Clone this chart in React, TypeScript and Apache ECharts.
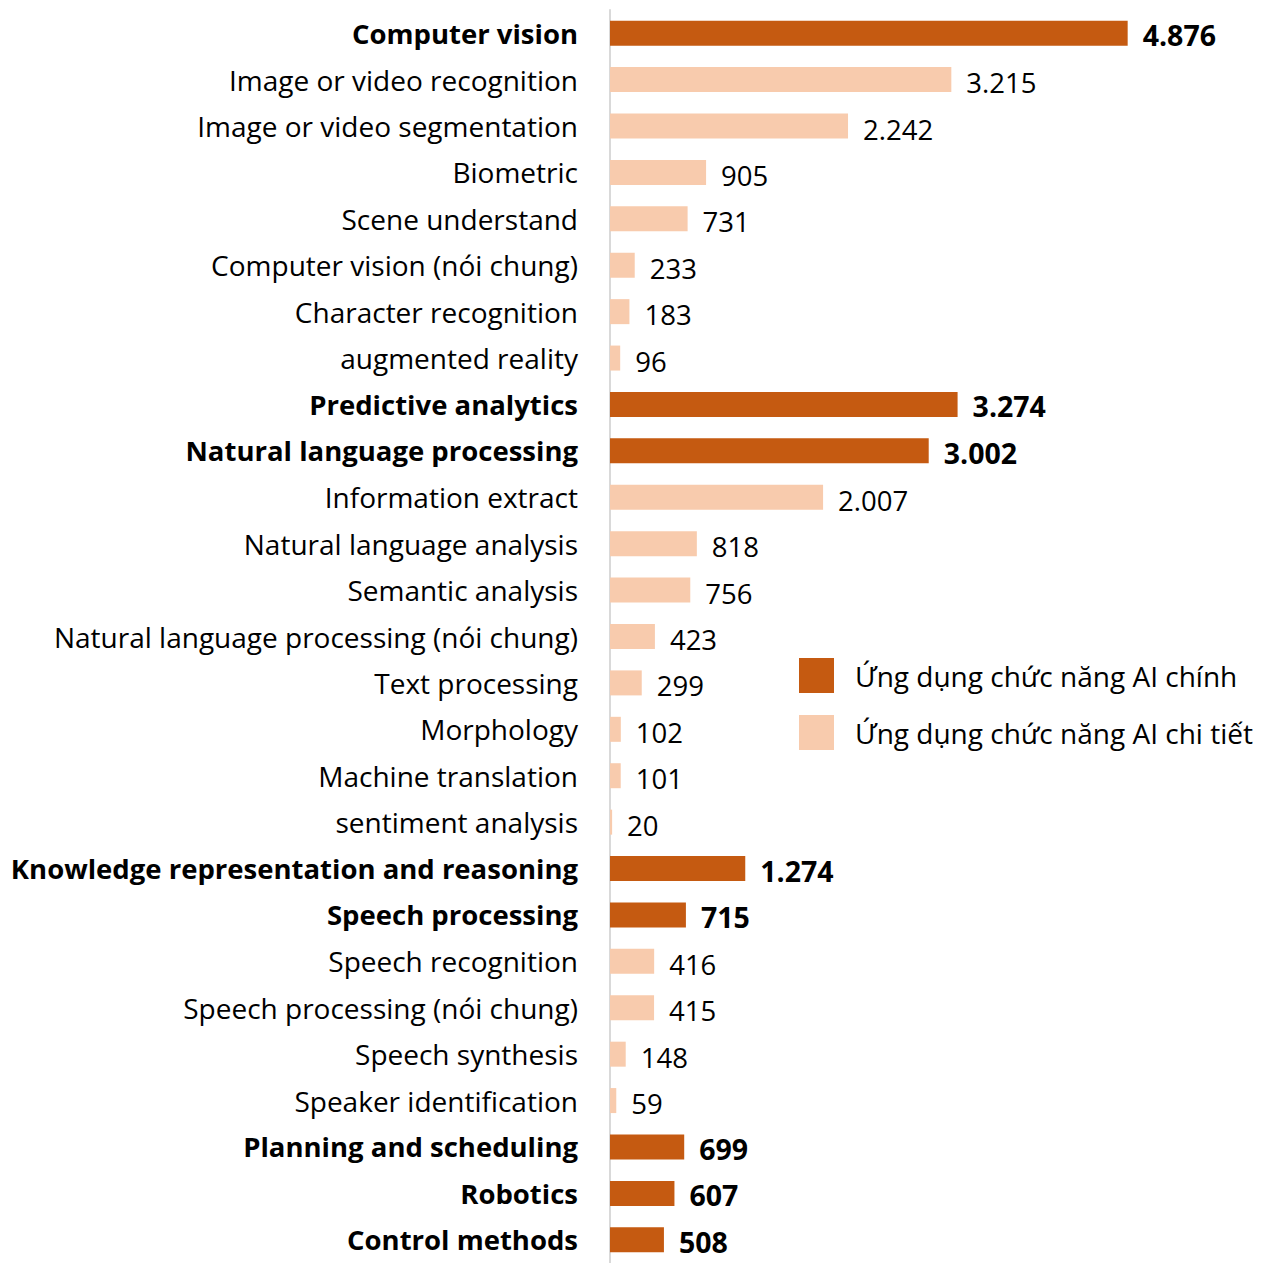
import React, { useEffect, useRef } from "react";
import * as echarts from "echarts";

const categories = [
  "Computer vision",
  "Image or video recognition",
  "Image or video segmentation",
  "Biometric",
  "Scene understand",
  "Computer vision (nói chung)",
  "Character recognition",
  "augmented reality",
  "Predictive analytics",
  "Natural language processing",
  "Information extract",
  "Natural language analysis",
  "Semantic analysis",
  "Natural language processing (nói chung)",
  "Text processing",
  "Morphology",
  "Machine translation",
  "sentiment analysis",
  "Knowledge representation and reasoning",
  "Speech processing",
  "Speech recognition",
  "Speech processing (nói chung)",
  "Speech synthesis",
  "Speaker identification",
  "Planning and scheduling",
  "Robotics",
  "Control methods",
];

const values = [
  4876, 3215, 2242, 905, 731, 233, 183, 96, 3274, 3002, 2007, 818, 756, 423, 299,
  102, 101, 20, 1274, 715, 416, 415, 148, 59, 699, 607, 508,
];

// true = main AI function (bold, dark), false = detailed
const isMain = [
  true, false, false, false, false, false, false, false, true, true, false, false,
  false, false, false, false, false, false, true, true, false, false, false, false,
  true, true, true,
];

const seriesNames = ["Ứng dụng chức năng AI chính", "Ứng dụng chức năng AI chi tiết"];

const FONT = "Open Sans";
const DARK = "#C55A11";
const LIGHT = "#F8CBAD";

function fmt(v: number): string {
  return String(v).replace(/\B(?=(\d{3})+(?!\d))/g, ".");
}

export default function App() {
  const ref = useRef<HTMLDivElement>(null);
  useEffect(() => {
    if (!ref.current) return;
    const chart = echarts.init(ref.current, null, { renderer: "svg" });
    const mainData = values.map((v, i) => (isMain[i] ? v : null));
    const subData = values.map((v, i) => (isMain[i] ? null : v));
    chart.setOption({
      animation: false,
      textStyle: { fontFamily: FONT },
      legend: {
        orient: "vertical",
        left: 799,
        top: 658,
        padding: 0,
        itemWidth: 35,
        itemHeight: 35,
        itemGap: 22,
        icon: "rect",
        textStyle: { fontFamily: FONT, fontSize: 28, color: "#000", padding: [0, 0, 0, 16] },
        data: seriesNames,
      },
      grid: { left: 610, top: 10, width: 637, height: 1257, containLabel: false },
      xAxis: {
        type: "value",
        min: 0,
        max: 6000,
        show: false,
        splitLine: { show: false },
      },
      yAxis: {
        type: "category",
        inverse: true,
        data: categories,
        axisLine: { show: true, lineStyle: { color: "#D9D9D9", width: 2 } },
        axisTick: { show: false },
        axisLabel: {
          margin: 32,
          formatter: (val: string, idx: number) =>
            isMain[idx] ? `{b|${val}}` : `{n|${val}}`,
          rich: {
            b: { fontFamily: FONT, fontSize: 27.5, fontWeight: "bold", color: "#000" },
            n: { fontFamily: FONT, fontSize: 28, color: "#000" },
          },
        },
      },
      series: [
        {
          name: seriesNames[0],
          type: "bar",
          data: mainData,
          barWidth: 25,
          barGap: "-100%",
          itemStyle: { color: DARK },
          label: {
            show: true,
            position: "right",
            distance: 15,
            fontFamily: FONT,
            fontSize: 28.5,
            fontWeight: "bold",
            color: "#000",
            offset: [0, 2],
            formatter: (p: any) => fmt(p.value),
          },
        },
        {
          name: seriesNames[1],
          type: "bar",
          data: subData,
          barWidth: 25,
          barGap: "-100%",
          itemStyle: { color: LIGHT },
          label: {
            show: true,
            position: "right",
            distance: 15,
            fontFamily: FONT,
            fontSize: 27.5,
            color: "#000",
            offset: [0, 3],
            formatter: (p: any) => fmt(p.value),
          },
        },
      ],
    });
    return () => chart.dispose();
  }, []);
  return (
    <div
      ref={ref}
      style={{ position: "absolute", top: 0, left: 0, width: 1274, height: 1263, overflow: "hidden" }}
    />
  );
}
